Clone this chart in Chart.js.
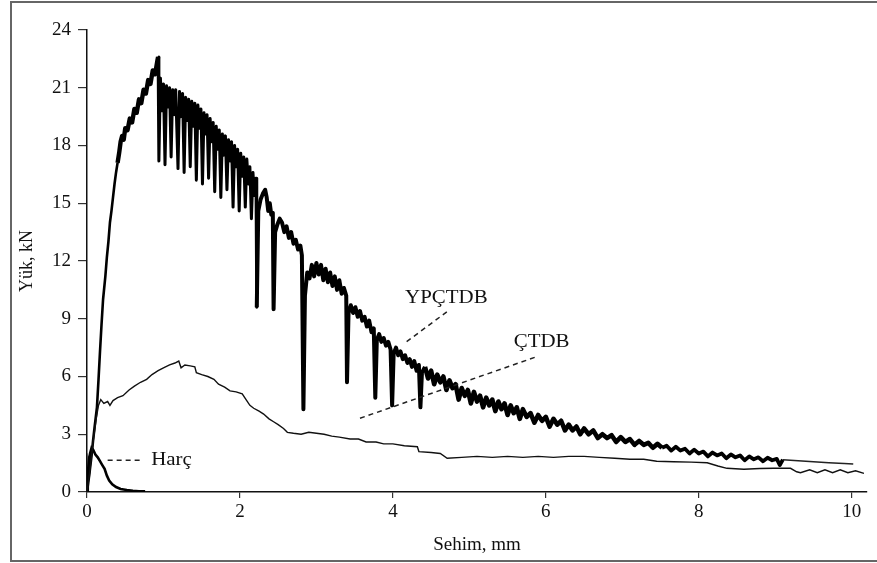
<!DOCTYPE html>
<html>
<head>
<meta charset="utf-8">
<script src="https://cdn.jsdelivr.net/npm/chart.js@4.4.1/dist/chart.umd.min.js"></script>
<style>
  body { margin: 0; background: #fff; overflow: hidden; }
  #frame { position: absolute; left: 10px; top: 1px; width: 900px; height: 561px;
           border: 2.5px solid #666; box-sizing: border-box; pointer-events: none; }
  canvas { position: absolute; left: 0; top: 0; }
</style>
</head>
<body>
<canvas id="loadChart" width="877" height="563"></canvas>
<div id="frame"></div>
<script>
// tick values
const xTicks = [0, 2, 4, 6, 8, 10];
const yTicks = [0, 3, 6, 9, 12, 15, 18, 21, 24];

// Harç (mortar)
const harcX = [0, 0.01, 0.02, 0.03, 0.04, 0.06, 0.08, 0.11, 0.14, 0.17, 0.20, 0.23, 0.26, 0.29, 0.33, 0.38, 0.44, 0.52, 0.60, 0.68, 0.76];
const harcY = [0, 0.7, 1.5, 1.3, 2.0, 2.3, 2.2, 1.95, 1.8, 1.6, 1.4, 1.2, 0.85, 0.6, 0.4, 0.26, 0.16, 0.1, 0.06, 0.04, 0.03];

// ÇTDB
const ctdbX = [0, 0.04, 0.08, 0.12, 0.15, 0.18, 0.22, 0.27, 0.30, 0.34, 0.40, 0.47, 0.55, 0.62, 0.70, 0.78, 0.85, 0.93, 1.00, 1.08,
  1.15, 1.20, 1.23, 1.28, 1.35, 1.41, 1.43, 1.50, 1.58, 1.66, 1.72, 1.80, 1.87, 1.95, 2.03, 2.08, 2.13, 2.18, 2.25, 2.31,
  2.38, 2.44, 2.50, 2.57, 2.62, 2.70, 2.80, 2.90, 3.00, 3.10, 3.20, 3.30, 3.44, 3.55, 3.65, 3.78, 3.88, 4.00, 4.15, 4.32,
  4.34, 4.50, 4.62, 4.71, 4.90, 5.10, 5.30, 5.50, 5.70, 5.90, 6.10, 6.30, 6.50, 6.70, 6.90, 7.10, 7.28, 7.45, 7.67, 7.90,
  8.11, 8.25, 8.37, 8.59, 8.80, 8.98, 9.20, 9.28, 9.33, 9.45, 9.55, 9.65, 9.75, 9.85, 9.95, 10.05, 10.16];
const ctdbY = [0, 1.2, 2.6, 3.8, 4.5, 4.8, 4.6, 4.7, 4.5, 4.75, 4.9, 5.0, 5.3, 5.5, 5.7, 5.85, 6.1, 6.3, 6.45, 6.6,
  6.7, 6.8, 6.45, 6.6, 6.55, 6.5, 6.2, 6.1, 6.0, 5.85, 5.6, 5.45, 5.25, 5.2, 5.1, 4.8, 4.5, 4.35, 4.2, 4.05,
  3.8, 3.65, 3.5, 3.3, 3.1, 3.05, 3.0, 3.1, 3.05, 3.0, 2.9, 2.85, 2.75, 2.75, 2.6, 2.6, 2.5, 2.5, 2.4, 2.35,
  2.1, 2.05, 2.0, 1.75, 1.8, 1.85, 1.8, 1.85, 1.8, 1.85, 1.8, 1.85, 1.85, 1.8, 1.75, 1.7, 1.7, 1.6, 1.57, 1.55,
  1.52, 1.35, 1.23, 1.18, 1.22, 1.23, 1.23, 1.05, 1.0, 1.15, 1.0, 1.15, 1.0, 1.15, 1.0, 1.1, 0.97];

// YPÇTDB
const ypX = [0, 0.03, 0.06, 0.08, 0.10, 0.13, 0.15, 0.17, 0.19, 0.21, 0.24, 0.26, 0.28, 0.30, 0.32, 0.34, 0.36, 0.38, 0.40, 0.42,
  0.44, 0.46, 0.48, 0.50, 0.53, 0.56, 0.59, 0.62, 0.65, 0.68, 0.71, 0.74, 0.77, 0.80, 0.83, 0.86, 0.89, 0.92, 0.93,
  0.94, 0.96, 0.98, 1.00, 1.02, 1.04, 1.06, 1.08, 1.10, 1.12, 1.14, 1.16, 1.19, 1.21, 1.23, 1.25, 1.27, 1.29, 1.31, 1.33,
  1.35, 1.37, 1.39, 1.41, 1.43, 1.45, 1.47, 1.49, 1.51, 1.53, 1.55, 1.57, 1.59, 1.61, 1.63, 1.65, 1.67, 1.69, 1.71, 1.73,
  1.75, 1.77, 1.79, 1.81, 1.83, 1.85, 1.87, 1.89, 1.91, 1.93, 1.95, 1.97, 1.99, 2.01, 2.03, 2.05, 2.07, 2.09, 2.11, 2.13,
  2.15, 2.17, 2.19, 2.21, 2.22, 2.24, 2.27, 2.30, 2.33, 2.35, 2.37, 2.39, 2.41, 2.43, 2.44, 2.46, 2.49, 2.52, 2.55, 2.58,
  2.61, 2.64, 2.67, 2.70, 2.73, 2.76, 2.79, 2.81, 2.83, 2.85, 2.88, 2.91, 2.94, 2.97, 3.00, 3.03, 3.06, 3.09, 3.12, 3.15,
  3.18, 3.21, 3.24, 3.27, 3.30, 3.33, 3.36, 3.39, 3.40, 3.42, 3.45, 3.48, 3.51, 3.54, 3.57, 3.60, 3.63, 3.66, 3.69, 3.72,
  3.75, 3.77, 3.79, 3.82, 3.85, 3.88, 3.91, 3.94, 3.97, 3.99, 4.01, 4.04, 4.07, 4.10, 4.13, 4.16, 4.19, 4.22, 4.25, 4.28,
  4.31, 4.34, 4.36, 4.38, 4.42, 4.46, 4.50, 4.54, 4.58, 4.62, 4.66, 4.70, 4.74, 4.78, 4.82, 4.86, 4.90, 4.94, 4.98, 5.02,
  5.06, 5.10, 5.14, 5.18, 5.22, 5.26, 5.30, 5.34, 5.38, 5.42, 5.46, 5.50, 5.54, 5.58, 5.62, 5.66, 5.70, 5.75, 5.80, 5.85,
  5.90, 5.95, 6.00, 6.05, 6.10, 6.15, 6.20, 6.25, 6.30, 6.35, 6.40, 6.45, 6.50, 6.56, 6.62, 6.68, 6.74, 6.80, 6.86, 6.92,
  6.98, 7.04, 7.10, 7.16, 7.22, 7.28, 7.34, 7.40, 7.46, 7.52, 7.58, 7.64, 7.70, 7.76, 7.82, 7.88, 7.94, 8.00, 8.06, 8.12,
  8.18, 8.24, 8.30, 8.36, 8.42, 8.48, 8.54, 8.60, 8.66, 8.72, 8.78, 8.84, 8.90, 8.96, 9.02, 9.06, 9.10, 9.30, 9.50, 9.70,
  9.90, 10.02];
const ypY = [0, 0.9, 1.9, 2.7, 3.4, 4.4, 5.8, 7.3, 8.7, 10.0, 11.2, 12.2, 13.0, 14.0, 14.6, 15.3, 16.0, 16.6, 17.1, 17.6,
  18.2, 18.5, 18.3, 18.9, 18.8, 19.4, 19.2, 19.9, 19.7, 20.4, 20.2, 20.9, 20.7, 21.4, 21.2, 21.9, 21.7, 22.4, 22.6,
  17.2, 21.5, 19.8, 21.2, 17.0, 21.1, 20.0, 21.0, 17.4, 20.9, 19.6, 20.9, 16.8, 20.8, 19.5, 20.7, 16.6, 20.5, 19.3, 20.4,
  16.9, 20.3, 19.0, 20.2, 16.2, 20.1, 18.9, 19.9, 16.0, 19.7, 18.6, 19.6, 16.3, 19.4, 18.2, 19.2, 15.6, 19.0, 17.8, 18.8,
  15.3, 18.6, 17.5, 18.5, 15.7, 18.3, 17.2, 18.2, 14.8, 18.0, 16.9, 17.8, 14.6, 17.6, 16.4, 17.4, 14.8, 17.3, 16.0, 16.9,
  14.2, 16.6, 15.4, 16.3, 9.6, 14.6, 15.2, 15.5, 15.7, 15.3, 14.6, 15.0, 14.4, 14.5, 9.5, 13.5, 13.9, 14.2, 14.0, 13.5,
  13.8, 13.2, 13.5, 12.9, 13.1, 12.6, 12.8, 12.3, 4.3, 10.2, 11.4, 11.1, 11.8, 11.2, 11.9, 11.3, 11.8, 11.0, 11.6, 10.9,
  11.4, 10.7, 11.2, 10.5, 11.0, 10.3, 10.6, 10.2, 5.7, 9.3, 9.7, 9.3, 9.6, 9.1, 9.4, 8.9, 9.1, 8.6, 8.9, 8.3,
  8.5, 4.9, 7.9, 8.2, 7.8, 8.0, 7.6, 7.8, 7.4, 4.5, 7.2, 7.5, 7.1, 7.3, 6.9, 7.1, 6.7, 6.9, 6.5, 6.8,
  6.3, 6.6, 4.4, 6.2, 6.5, 5.9, 6.3, 5.6, 6.1, 5.7, 6.0, 5.3, 5.8, 5.4, 5.6, 4.8, 5.4, 5.0, 5.3, 4.6,
  5.2, 4.7, 5.0, 4.4, 4.9, 4.5, 4.8, 4.2, 4.7, 4.3, 4.6, 4.0, 4.5, 4.1, 4.4, 3.8, 4.3, 3.9, 4.1, 3.6,
  4.0, 3.7, 3.9, 3.4, 3.8, 3.5, 3.7, 3.2, 3.5, 3.2, 3.4, 3.0, 3.3, 3.0, 3.2, 2.8, 3.0, 2.8, 2.95, 2.6,
  2.85, 2.6, 2.75, 2.45, 2.65, 2.45, 2.55, 2.3, 2.5, 2.3, 2.4, 2.15, 2.35, 2.15, 2.25, 2.0, 2.2, 2.0, 2.1, 1.85,
  2.05, 1.9, 2.0, 1.75, 1.95, 1.8, 1.9, 1.65, 1.85, 1.7, 1.8, 1.6, 1.78, 1.65, 1.72, 1.4, 1.68, 1.62, 1.57, 1.52,
  1.48, 1.45];

// callout labels (data units)
const noteText = ['Harç', 'YPÇTDB', 'ÇTDB'];
const noteAt = [[0.84, 1.65], [4.16, 10.1], [5.58, 7.8]];
const leaderFrom = [[0.27, 1.65], [4.18, 7.81], [3.57, 3.83]];
const leaderTo = [[0.72, 1.65], [4.71, 9.37], [5.86, 7.0]];

const serif = 'Liberation Serif, Times New Roman, serif';
const inkColor = '#111';

function toPoints(xs, ys) {
  return xs.map((x, i) => ({ x: x, y: ys[i] }));
}

// stroke width of the YPÇTDB trace: the noisy stretches are drawn as a heavy band
function ypWidth(x) {
  if (x >= 9.1) return 1.5;
  if (x >= 7.5) return 3.8;
  if (x >= 4.4) return 4.6;
  if (x >= 2.22) return 4.0;
  if (x >= 0.93) return 3.0;
  if (x >= 0.4) return 4.4;
  return 2.6;
}

// dashed leader lines + label texts
const calloutPlugin = {
  id: 'callouts',
  afterDatasetsDraw(chart) {
    const ctx = chart.ctx;
    const sx = chart.scales.x, sy = chart.scales.y;
    ctx.save();
    for (let i = 0; i < noteText.length; i++) {
      ctx.beginPath();
      ctx.setLineDash([5, 4]);
      ctx.lineWidth = 1.5;
      ctx.strokeStyle = '#222';
      ctx.moveTo(sx.getPixelForValue(leaderFrom[i][0]), sy.getPixelForValue(leaderFrom[i][1]));
      ctx.lineTo(sx.getPixelForValue(leaderTo[i][0]), sy.getPixelForValue(leaderTo[i][1]));
      ctx.stroke();

      ctx.save();
      ctx.translate(sx.getPixelForValue(noteAt[i][0]), sy.getPixelForValue(noteAt[i][1]));
      ctx.scale(1.1, 1);
      ctx.font = '19px ' + serif;
      ctx.fillStyle = inkColor;
      ctx.textAlign = 'left';
      ctx.textBaseline = 'middle';
      ctx.fillText(noteText[i], 0, 0);
      ctx.restore();
    }
    ctx.restore();
  }
};

let loadCtx = document.getElementById('loadChart').getContext('2d');
let loadChart = new Chart(loadCtx, {
  type: 'line',
  data: {
    datasets: [{
      label: 'ÇTDB',
      data: toPoints(ctdbX, ctdbY),
      borderColor: '#111',
      borderWidth: 1.4,
      pointRadius: 0,
      tension: 0
    }, {
      label: 'Harç',
      data: toPoints(harcX, harcY),
      borderColor: '#000',
      borderWidth: 2.6,
      pointRadius: 0,
      tension: 0
    }, {
      label: 'YPÇTDB',
      data: toPoints(ypX, ypY),
      borderColor: '#000',
      borderWidth: 2.6,
      borderJoinStyle: 'round',
      pointRadius: 0,
      tension: 0,
      segment: {
        borderWidth: c => ypWidth(c.p0.parsed.x),
        borderColor: c => c.p0.parsed.x >= 9.1 ? '#222' : '#000'
      }
    }]
  },
  options: {
    responsive: false,
    animation: false,
    devicePixelRatio: 1,
    layout: { padding: { top: 30, right: 10, bottom: 0, left: 0 } },
    plugins: {
      legend: { display: false },
      tooltip: { enabled: false }
    },
    scales: {
      x: {
        type: 'linear',
        min: 0,
        max: 10.2,
        afterBuildTicks: s => { s.ticks = xTicks.map(v => ({ value: v })); },
        afterFit: s => { s.height = 71; },
        grid: { drawOnChartArea: false, drawTicks: true, tickLength: 6, color: '#333', lineWidth: 1.2 },
        border: { display: true, color: '#111', width: 1.5 },
        ticks: { font: { family: serif, size: 19 }, color: inkColor, padding: 3, maxRotation: 0, autoSkip: false },
        title: { display: true, text: 'Sehim, mm', font: { family: serif, size: 19 }, color: inkColor, padding: { top: 0, bottom: 7 } }
      },
      y: {
        min: 0,
        max: 24,
        afterBuildTicks: s => { s.ticks = yTicks.map(v => ({ value: v })); },
        afterFit: s => { s.width = 87; },
        grid: { drawOnChartArea: false, drawTicks: true, tickLength: 9, color: '#333', lineWidth: 1.2 },
        border: { display: true, color: '#111', width: 1.5 },
        ticks: { font: { family: serif, size: 19 }, color: inkColor, padding: 7, autoSkip: false },
        title: { display: true, text: 'Yük, kN', font: { family: serif, size: 18 }, color: inkColor, padding: { top: 16, bottom: 0 } }
      }
    }
  },
  plugins: [calloutPlugin]
});
</script>
</body>
</html>
